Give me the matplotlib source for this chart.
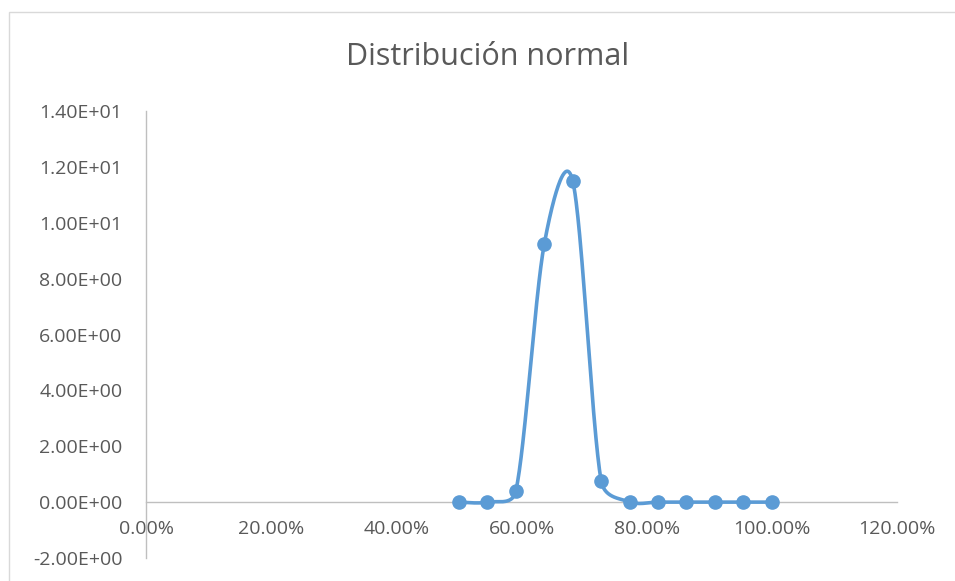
import numpy as np
import matplotlib
matplotlib.use("Agg")
import matplotlib.pyplot as plt
from matplotlib.ticker import FuncFormatter, MultipleLocator
from matplotlib.patches import Rectangle

title = "Distribución normal"
x_vals = [0.5, 0.5455, 0.5909, 0.6364, 0.6818, 0.7273, 0.7727, 0.8182, 0.8636, 0.9091, 0.9545, 1.0]
y_vals = [0.0, 0.0, 0.39, 9.24, 11.50, 0.76, 0.01, 0.0, 0.0, 0.0, 0.0, 0.0]

LINE = "#5B9BD5"
TXT = "#595959"
GRID = "#BFBFBF"
FONT = ["Open Sans", "DejaVu Sans"]


def smooth_px(P, n=50):
    # Excel-style smoothed line (in pixel space): Bezier segments with
    # Catmull-Rom tangents, control distance capped at half the segment length
    out = []
    m = len(P)
    for i in range(m - 1):
        p0 = P[i - 1] if i > 0 else P[i]
        p1 = P[i]
        p2 = P[i + 1]
        p3 = P[i + 2] if i + 2 < m else P[i + 1]
        d12 = np.linalg.norm(p2 - p1)
        t1 = p2 - p0
        t2 = p3 - p1
        n1 = np.linalg.norm(t1)
        n2 = np.linalg.norm(t2)
        f1 = 1 / 6.0
        if n1 > 0 and n1 / 6.0 > d12 / 2.0:
            f1 = d12 / (2.0 * n1)
        f2 = 1 / 6.0
        if n2 > 0 and n2 / 6.0 > d12 / 2.0:
            f2 = d12 / (2.0 * n2)
        c1 = p1 + t1 * f1
        c2 = p2 - t2 * f2
        t = np.linspace(0, 1, n)[:, None]
        seg = ((1 - t) ** 3) * p1 + 3 * ((1 - t) ** 2) * t * c1 + 3 * (1 - t) * t ** 2 * c2 + t ** 3 * p2
        out.append(seg if i == 0 else seg[1:])
    return np.vstack(out)


fig = plt.figure(figsize=(9.55, 5.81), dpi=100)
fig.patches.append(Rectangle((8.5 / 955, -0.05), 1.0, 1 - 11.5 / 581 + 0.05,
                             transform=fig.transFigure, fill=False,
                             edgecolor="#D9D9D9", linewidth=1.0))
ax = fig.add_axes([146 / 955, 1 - 558 / 581, (897 - 146) / 955, (558 - 111) / 581])

ax.set_xlim(0, 1.2)
ax.set_ylim(-2, 14)

P = ax.transData.transform(np.column_stack([x_vals, y_vals]))
S = ax.transData.inverted().transform(smooth_px(P))
ax.plot(S[:, 0], S[:, 1], color=LINE, linewidth=2.6, solid_capstyle="round", zorder=3)
ax.plot(x_vals, y_vals, linestyle="none", marker="o", markersize=9.5,
        color=LINE, markeredgecolor=LINE, zorder=4)

ax.xaxis.set_major_locator(MultipleLocator(0.2))
ax.yaxis.set_major_locator(MultipleLocator(2))
ax.xaxis.set_major_formatter(FuncFormatter(lambda v, p: "{:.2f}%".format(v * 100)))
ax.yaxis.set_major_formatter(FuncFormatter(lambda v, p: "{:.2E}".format(v)))

for s in ["top", "right"]:
    ax.spines[s].set_visible(False)
ax.spines["bottom"].set_position(("data", 0))
ax.spines["left"].set_position(("data", 0))
for s in ["bottom", "left"]:
    ax.spines[s].set_color(GRID)
    ax.spines[s].set_linewidth(1.0)

ax.tick_params(axis="both", length=0, labelsize=14, labelcolor=TXT)
ax.tick_params(axis="x", pad=13)
ax.tick_params(axis="y", pad=17)
for lab in ax.get_xticklabels() + ax.get_yticklabels():
    lab.set_family(FONT)

fig.text(488 / 955, 1 - 57 / 581, title, ha="center", va="center",
         fontsize=22, color=TXT, family=FONT)

fig.savefig("out.png", dpi=100, facecolor="white")
